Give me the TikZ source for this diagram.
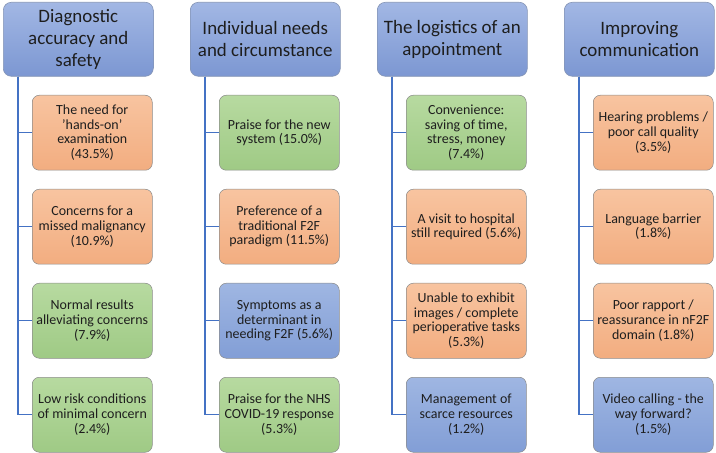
\documentclass[tikz,border=0pt]{standalone}
\usepackage{fontspec}
\setmainfont{Carlito}
\definecolor{hdrtop}{HTML}{A2B7E4}
\definecolor{hdrbot}{HTML}{7C97D2}
\definecolor{hdrline}{HTML}{8595B5}
\definecolor{ortop}{HTML}{F8C4A0}
\definecolor{orbot}{HTML}{F2AD80}
\definecolor{grtop}{HTML}{B7DAA0}
\definecolor{grbot}{HTML}{9FCA85}
\definecolor{bltop}{HTML}{9FB6E2}
\definecolor{blbot}{HTML}{829ED6}
\definecolor{kidline}{HTML}{8C8C8C}
\definecolor{conncol}{HTML}{4472C4}
\definecolor{txt}{HTML}{1E1E1E}
\begin{document}
\begin{tikzpicture}[x=1bp,y=-1bp,
  hdr/.style={rounded corners=8bp, draw=hdrline, line width=0.6bp, top color=hdrtop, bottom color=hdrbot,
    minimum width=150bp, minimum height=74bp, align=center, inner sep=0pt,
    font=\fontsize{19}{22}\selectfont, text=txt, anchor=north west},
  kid/.style={rounded corners=7bp, draw=kidline, line width=0.5bp,
    minimum width=120bp, minimum height=75bp, align=center, inner sep=0pt,
    font=\fontsize{14}{14.7}\selectfont, text=txt, anchor=north west},
  orb/.style={kid, top color=ortop, bottom color=orbot},
  grb/.style={kid, top color=grtop, bottom color=grbot},
  blb/.style={kid, top color=bltop, bottom color=blbot},
  conn/.style={draw=conncol, line width=1.1bp}]
\useasboundingbox (0,0) rectangle (716,453);
% headers
\node[hdr] (h1) at (3,2) {Diagnostic\\accuracy and\\safety};
\node[hdr] (h2) at (190,2) {Individual needs\\and circumstance};
\node[hdr] (h3) at (377,2) {The logistics of an\\appointment};
\node[hdr] (h4) at (564,2) {Improving\\communication};
% column 1
\node[orb] (c11) at (32,95) {The need for\\'hands-on'\\examination\\(43.5\%)};
\node[orb] (c12) at (32,189) {Concerns for a\\missed malignancy\\(10.9\%)};
\node[grb] (c13) at (32,283) {Normal results\\alleviating concerns\\(7.9\%)};
\node[grb] (c14) at (32,377) {Low risk conditions\\of minimal concern\\(2.4\%)};
% column 2
\node[grb] (c21) at (219,95) {Praise for the new\\system (15.0\%)};
\node[orb] (c22) at (219,189) {Preference of a\\traditional F2F\\paradigm (11.5\%)};
\node[blb] (c23) at (219,283) {Symptoms as a\\determinant in\\needing F2F (5.6\%)};
\node[grb] (c24) at (219,377) {Praise for the NHS\\COVID-19 response\\(5.3\%)};
% column 3
\node[grb] (c31) at (406,95) {Convenience:\\saving of time,\\stress, money\\(7.4\%)};
\node[orb] (c32) at (406,189) {A visit to hospital\\still required (5.6\%)};
\node[orb] (c33) at (406,283) {Unable to exhibit\\images / complete\\perioperative tasks\\(5.3\%)};
\node[blb] (c34) at (406,377) {Management of\\scarce resources\\(1.2\%)};
% column 4
\node[orb] (c41) at (593,95) {Hearing problems /\\poor call quality\\(3.5\%)};
\node[orb] (c42) at (593,189) {Language barrier\\(1.8\%)};
\node[orb] (c43) at (593,283) {Poor rapport /\\reassurance in nF2F\\domain (1.8\%)};
\node[blb] (c44) at (593,377) {Video calling - the\\way forward?\\(1.5\%)};
% connectors
\foreach \c in {1,2,3,4}{
  \foreach \k in {1,2,3,4}{
    \draw[conn] ([xshift=15bp]h\c.south west) |- (c\c\k.west);
  }
}
\end{tikzpicture}
\end{document}
